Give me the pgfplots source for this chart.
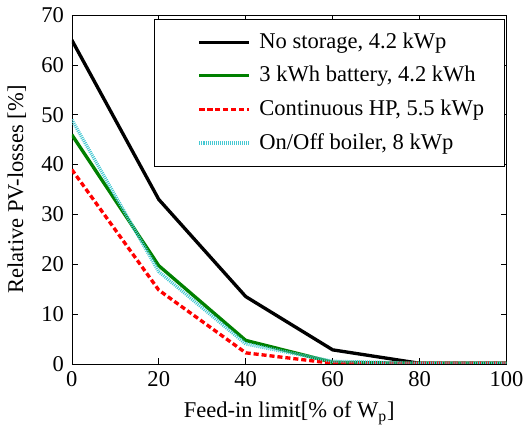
\documentclass[border=0pt]{standalone}
\usepackage{fontspec}
\setmainfont{Liberation Serif}
\usepackage{pgfplots}
\pgfplotsset{compat=1.18}
\definecolor{mgreen}{RGB}{0,128,0}
\definecolor{mcyan}{RGB}{70,200,210}
\begin{document}
\fontsize{15.5}{18}\selectfont
\begin{tikzpicture}
\begin{axis}[
  scale only axis,
  width=298bp, height=239bp,
  xmin=0, xmax=100, ymin=0, ymax=70,
  xtick={0,20,...,100}, ytick={0,10,...,70},
  xticklabels={0,20,40,60,80,100},
  yticklabels={0,10,20,30,40,50,60,70},
  tick align=inside,
  major tick length=4bp,
  tick style={black, thin},
  axis line style={black, thin},
  tick label style={font=\fontsize{15.5}{18}\selectfont},
  label style={font=\fontsize{15.5}{18}\selectfont},
  xlabel={Feed-in limit[\% of W$_{\mathrm{p}}$]},
  ylabel={Relative PV-losses [\%]},
  legend style={at={(0.996,0.988)}, anchor=north east, draw=black, thin,
    font=\fontsize{15.5}{18}\selectfont, inner xsep=12bp, inner ysep=7bp,
    row sep=6bp, legend cell align=left},
  legend image code/.code={\fill[white] (0bp,-1bp) rectangle (56bp,1bp); \draw[#1] (18bp,0bp) -- (52bp,0bp);},
]
\addplot[black, line width=2.3pt] coordinates {(0,65) (20,33) (40,13.5) (60,2.8) (80,0.1) (100,0.1)};
\addlegendentry{No storage, 4.2 kWp}
\addplot[mgreen, line width=2.3pt] coordinates {(0,46) (20,19.7) (40,4.7) (60,0.3) (80,0.1) (100,0.1)};
\addlegendentry{3 kWh battery, 4.2 kWh}
\addplot[red, line width=2.3pt, dash pattern=on 3.5pt off 2pt] coordinates {(0,39) (20,14.8) (40,2.2) (60,0.1) (80,0.1) (100,0.1)};
\addlegendentry{Continuous HP, 5.5 kWp}
\addplot[mcyan, line width=2.3pt, dash pattern=on 0.7pt off 0.7pt] coordinates {(0,49) (20,18.5) (40,4) (60,0.5) (80,0.1) (100,0.1)};
\addlegendentry{On/Off boiler, 8 kWp}
\end{axis}
\end{tikzpicture}
\end{document}
